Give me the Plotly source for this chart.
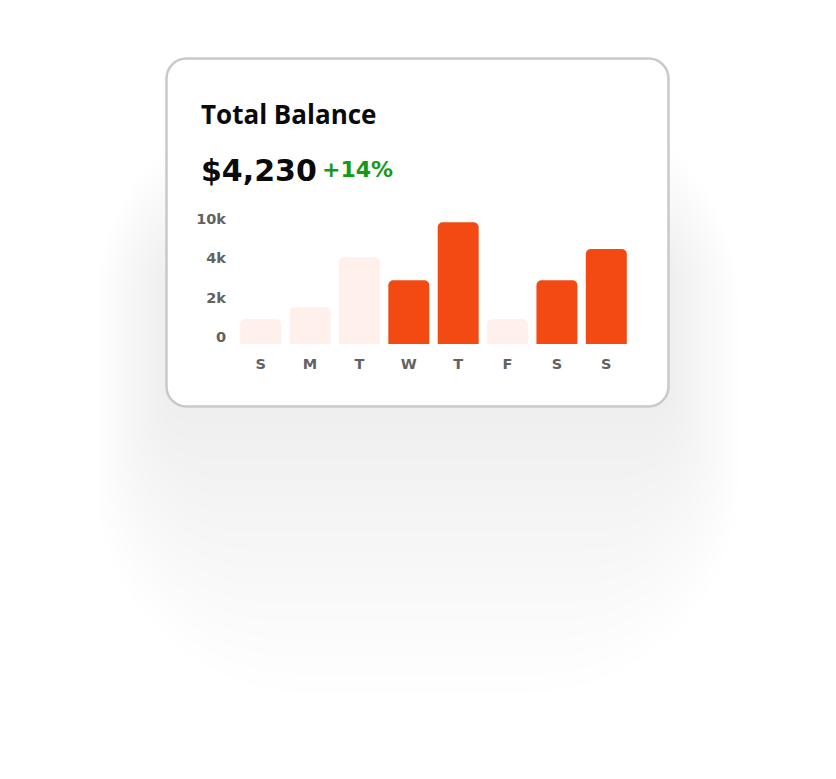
import plotly.graph_objects as go

# ---------------- data ----------------
days = ["S", "M", "T", "W", "T", "F", "S", "S"]
balance_units = [0.63, 0.94, 2.20, 1.62, 3.09, 0.63, 1.62, 2.41]  # bar heights in tick-step units
highlight = [False, False, False, True, True, False, True, True]
y_tick_labels = ["0", "2k", "4k", "10k"]
title_text = "Total Balance"
amount_text = "$4,230"
change_text = "+14%"

# ---------------- style / layout ----------------
FIG_W, FIG_H = 836, 779
ML, MR, MT, MB = 236, 205, 214, 435
PW = FIG_W - ML - MR
PH = FIG_H - MT - MB
Y_MAX = 3.3
LABEL_LIFT = 0.18

ORANGE = "#F24A12"
LIGHT = "#FFF0EC"
TICK_GREY = "#626262"
GREEN = "#169a16"


def fx(px):
    return (px - ML) / PW


def fy(py):
    return (FIG_H - MB - py) / PH


def rrect(x0, y0, x1, y1, r):
    k = 0.5523 * r
    pts = [
        ("M", [(x0 + r, y0)]),
        ("L", [(x1 - r, y0)]),
        ("C", [(x1 - r + k, y0), (x1, y0 + r - k), (x1, y0 + r)]),
        ("L", [(x1, y1 - r)]),
        ("C", [(x1, y1 - r + k), (x1 - r + k, y1), (x1 - r, y1)]),
        ("L", [(x0 + r, y1)]),
        ("C", [(x0 + r - k, y1), (x0, y1 - r + k), (x0, y1 - r)]),
        ("L", [(x0, y0 + r)]),
        ("C", [(x0, y0 + r - k), (x0 + r - k, y0), (x0 + r, y0)]),
    ]
    s = ""
    for cmd, ps in pts:
        s += cmd + " " + " ".join(f"{fx(a):.5f},{fy(b):.5f}" for a, b in ps) + " "
    return s + "Z"


shapes = []
# soft shadow built from layered translucent rounded rects
N = 16
E = 260
for i in range(1, N + 1):
    e = E * i / N
    shapes.append(dict(
        type="path", xref="paper", yref="paper", layer="below",
        path=rrect(166 - 0.27 * e, 260 - 0.65 * e, 669 + 0.27 * e, 407 + 1.1 * e, 20 + 0.75 * e),
        fillcolor="rgba(0,0,0,0.0036)", line=dict(width=0),
    ))
# card
shapes.append(dict(
    type="path", xref="paper", yref="paper", layer="below",
    path=rrect(166.5, 58.5, 668.5, 406.5, 20),
    fillcolor="white", line=dict(color="#c9c9c9", width=2.5),
))

fig = go.Figure()
fig.add_trace(go.Bar(
    x=list(range(len(days))),
    y=balance_units,
    marker=dict(color=[ORANGE if h else LIGHT for h in highlight], cornerradius=5, line=dict(width=0)),
    hoverinfo="skip",
))

annotations = [
    dict(text=title_text, x=fx(199), y=fy(114), xanchor="left", yanchor="middle",
         font=dict(family="Open Sans", size=26, color="#0a0a0a", weight=700)),
    dict(text=amount_text, x=fx(199), y=fy(170), xanchor="left", yanchor="middle",
         font=dict(family="DejaVu Sans", size=30, color="#0a0a0a", weight=700)),
    dict(text=change_text, x=fx(320), y=fy(169), xanchor="left", yanchor="middle",
         font=dict(family="DejaVu Sans", size=22, color=GREEN, weight=700)),
]
for a in annotations:
    a.update(xref="paper", yref="paper", showarrow=False)

fig.update_layout(
    width=FIG_W, height=FIG_H,
    margin=dict(l=ML, r=MR, t=MT, b=MB),
    paper_bgcolor="white", plot_bgcolor="rgba(0,0,0,0)",
    showlegend=False, bargap=0.17,
    shapes=shapes, annotations=annotations,
    xaxis=dict(range=[-0.5, len(days) - 0.5], tickvals=list(range(len(days))), ticktext=days,
               showgrid=False, zeroline=False, showline=False, ticks="",
               tickfont=dict(family="DejaVu Sans", size=14.5, color=TICK_GREY, weight=700),
               ticklabelstandoff=9, fixedrange=True),
    yaxis=dict(range=[0, Y_MAX], tickvals=[i + LABEL_LIFT for i in range(len(y_tick_labels))],
               ticktext=y_tick_labels, showgrid=False, zeroline=False, showline=False, ticks="",
               tickfont=dict(family="DejaVu Sans", size=14.5, color=TICK_GREY, weight=700),
               ticklabelstandoff=9, fixedrange=True),
)

fig.write_html("out.html", config={"displayModeBar": False})
